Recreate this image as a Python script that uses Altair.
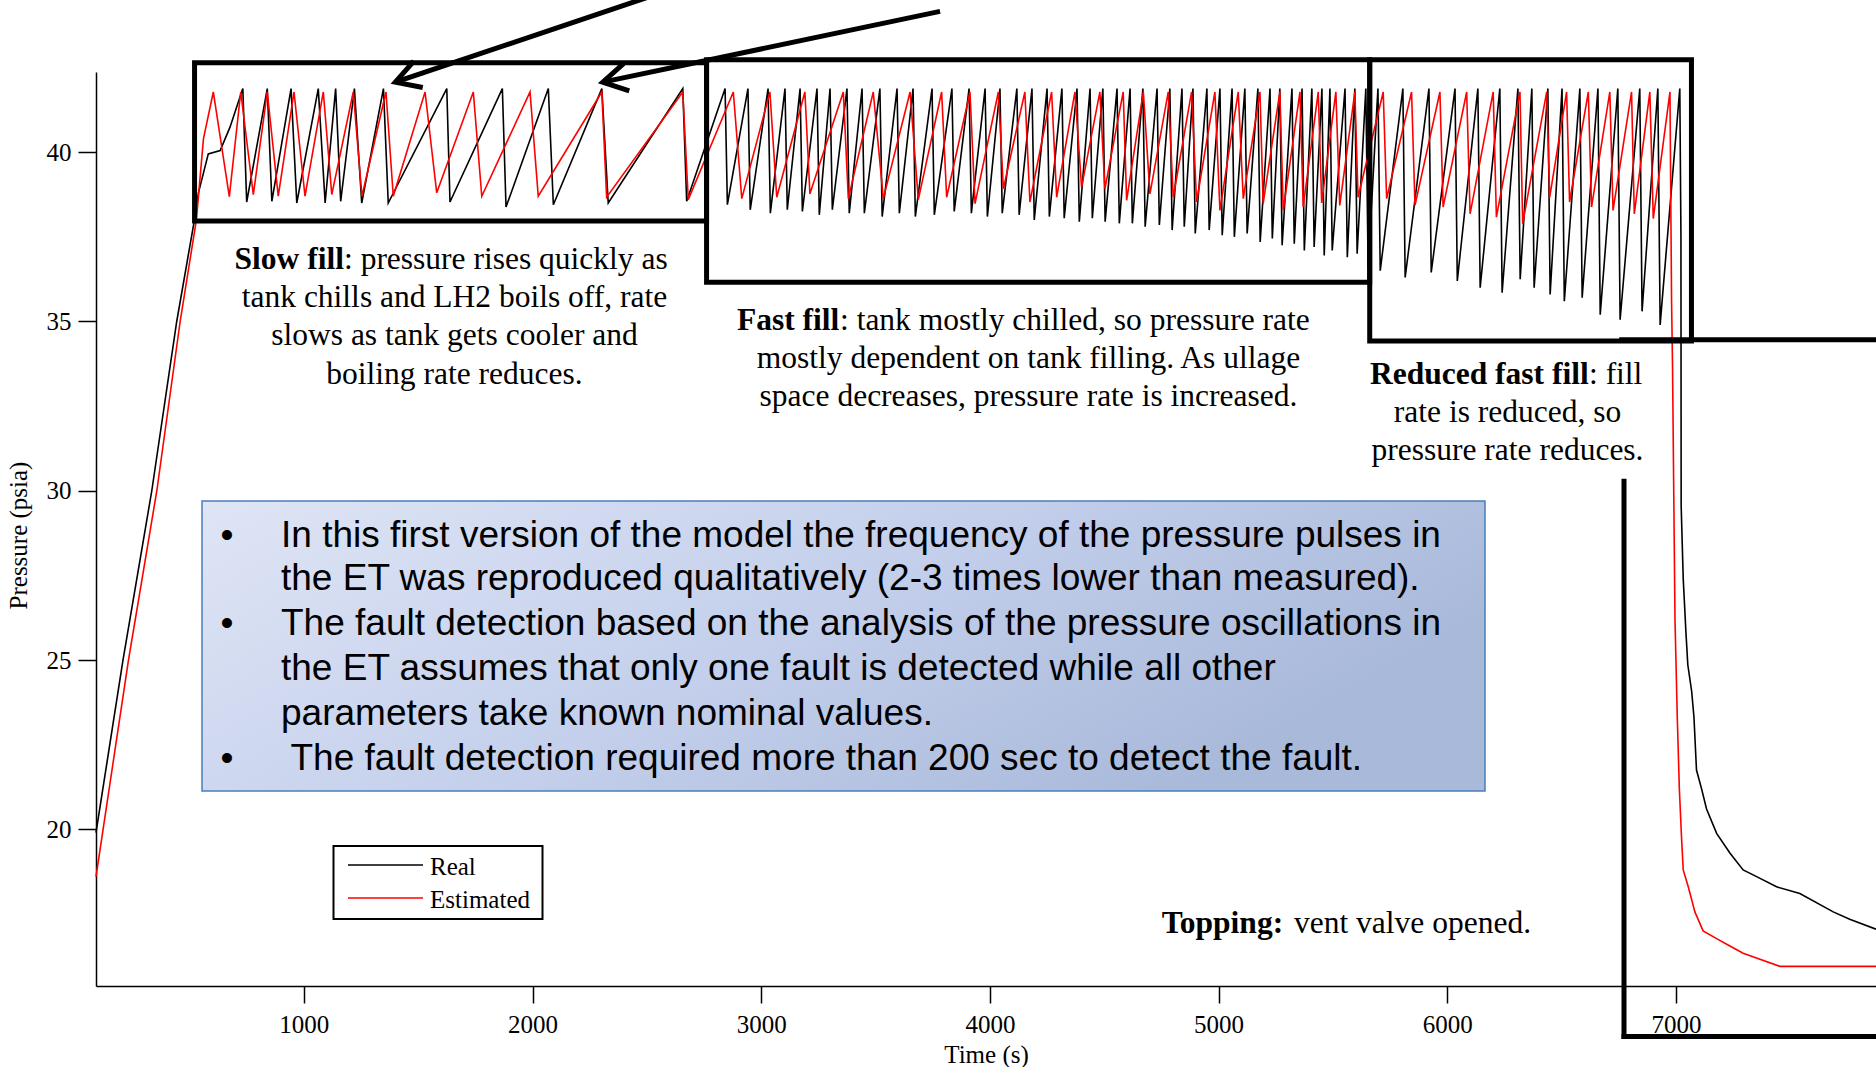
import altair as alt
import pandas as pd

# ---------------------------------------------------------------
# ET pressure during loading: measured ("Real") vs model ("Estimated")
# Times in s, pressures in psia.
# ---------------------------------------------------------------

# --- Real (measured) pressure ---
real_ramp_s = [91, 209, 335, 444, 524, 539, 582, 634, 677]
real_ramp_psia = [19.9, 25.0, 30.0, 35.0, 38.1, 38.8, 39.95, 40.05, 40.74]
real_peak_psia = 41.88

# slow fill: pulse peaks and the trough reached after each vent drop
real_slow_peak_s = [733, 840, 944, 1063, 1139, 1221, 1348, 1625, 1868, 2069, 2303, 2657]
real_slow_trough_s = [750, 860, 969, 1093, 1161, 1253, 1369, 1639, 1884, 2091, 2331, 2674]
real_slow_trough_psia = [38.53, 38.55, 38.5, 38.5, 38.55, 38.5, 38.5, 38.53, 38.38, 38.45, 38.5, 38.55]

# fast fill
real_fast_peak_s = [2842, 2942, 3030, 3104, 3170, 3244, 3301, 3375, 3441, 3519,
                    3594, 3664, 3747, 3834, 3909, 3979, 4044, 4118, 4184, 4250,
                    4315, 4381, 4438, 4494, 4556, 4613, 4669, 4731, 4787, 4840,
                    4888, 4949, 5006, 5059, 5115, 5172, 5225, 5268, 5321, 5365,
                    5408, 5452, 5487, 5553, 5596, 5644]
real_fast_trough_psia = [38.45, 38.3, 38.2, 38.3, 38.25, 38.15, 38.3, 38.2, 38.2, 38.1,
                         38.2, 38.1, 38.15, 38.25, 38.2, 38.1, 38.2, 38.15, 38.0, 38.1,
                         38.05, 37.95, 38.05, 37.95, 37.9, 37.9, 37.8, 37.85, 37.7, 37.8,
                         37.6, 37.7, 37.55, 37.5, 37.6, 37.35, 37.45, 37.25, 37.3, 37.1,
                         37.2, 36.95, 37.1, 36.9, 37.0, 36.6]

# reduced fast fill
real_reduced_peak_s = [5697, 5806, 5920, 6034, 6134, 6230, 6309, 6370, 6440, 6502,
                       6580, 6659, 6746, 6842, 6921]
real_reduced_trough_psia = [36.5, 36.3, 36.45, 36.2, 36.0, 35.85, 36.25, 36.0, 35.8, 35.6,
                            35.7, 35.2, 35.05, 35.3, 34.9]
real_drop_s = 10

# topping: vent valve opened
real_vent_s = [7017, 7022, 7023, 7032, 7044, 7052, 7069, 7079, 7090, 7112, 7134,
               7178, 7236, 7294, 7353, 7440, 7542, 7688, 7760, 7875]
real_vent_psia = [41.88, 37.5, 29.55, 27.4, 25.8, 24.86, 24.07, 23.3, 21.75, 21.2, 20.6,
                  19.88, 19.3, 18.8, 18.6, 18.3, 18.1, 17.56, 17.34, 17.05]

# --- Estimated (model) pressure ---
est_ramp_s = [91, 233, 357, 459, 530, 561]
est_ramp_psia = [18.6, 25.0, 30.0, 35.0, 38.0, 40.4]
est_peak_psia = 41.78

est_peak_s = [604, 724, 840, 957, 1085, 1216, 1359, 1530, 1741, 1989, 2303, 2657,
              2878, 3038, 3191, 3359, 3490, 3651,
              3789, 3913, 4037, 4153, 4270, 4372, 4481, 4583, 4671, 4780, 4882, 4984,
              5086, 5181, 5268, 5356, 5436, 5513, 5596,
              5720, 5844, 5968, 6085, 6201, 6318, 6435, 6522, 6617, 6711, 6806, 6886]
est_trough_s = [674, 779, 888, 1005, 1122, 1254, 1391, 1581, 1778, 2025, 2324, 2681,
                2915, 3068, 3213, 3381, 3534, 3687,
                3811, 3935, 4059, 4175, 4292, 4401, 4503, 4598, 4700, 4802, 4904, 5006,
                5108, 5195, 5283, 5370, 5451, 5530, 5610,
                5735, 5859, 5982, 6100, 6215, 6330, 6448, 6535, 6631, 6725, 6818, 6901]
est_trough_psia = [38.69, 38.75, 38.7, 38.7, 38.75, 38.7, 38.7, 38.8, 38.7, 38.7, 38.67, 38.6,
                   38.63, 38.67, 38.77, 38.63, 38.63, 38.6,
                   38.67, 38.48, 38.92, 38.53, 38.67, 38.97, 38.92, 38.58, 38.77, 38.67, 38.53, 38.28,
                   38.63, 38.48, 38.28, 38.38, 38.5, 38.43, 38.67,
                   38.63, 38.43, 38.38, 38.18, 38.08, 37.89, 38.67, 38.53, 38.38, 38.28, 38.18, 38.04]

est_vent_s = [6974, 6981, 6985, 6996, 7006, 7015, 7025, 7032, 7054, 7083, 7119,
              7178, 7236, 7294, 7455, 7875]
est_vent_psia = [41.78, 35.6, 33.8, 26.2, 23.3, 21.2, 19.7, 18.8, 18.3, 17.56, 17.0,
                 16.77, 16.55, 16.34, 15.95, 15.95]

# --- axis ticks ---
time_ticks = [1000, 2000, 3000, 4000, 5000, 6000, 7000]
psia_ticks = [20, 25, 30, 35, 40]

# --- phase boxes (time span, pressure span) ---
phase_start_s = [522, 2761, 5661]
phase_end_s = [2761, 5661, 7068]
phase_top_psia = [42.64, 42.73, 42.73]
phase_bottom_psia = [37.97, 36.16, 34.42]

# topping bracket segments: (t0, p0, t1, p1)
topping_segments = [(6763, 34.46, 7950, 34.46),
                    (6773, 30.28, 6773, 13.88),
                    (6773, 13.88, 7950, 13.88)]

# arrows: shaft start, tip, barb ends
arrows = [
    dict(start=(2514, 44.60), tip=(1400, 42.07), barb1=(1481, 42.69), barb2=(1520, 41.91)),
    dict(start=(3782, 44.16), tip=(2307, 42.07), barb1=(2398, 42.62), barb2=(2423, 41.81)),
]

# ---------------------------------------------------------------
PAD_L, PAD_T, PAD_R, PAD_B = 96, 72, 0, 81
W, H = 1780, 914
T_DOMAIN = [91, 7875]
P_DOMAIN = [15.37, 42.37]
SERIF = "Liberation Serif"
SANS = "Liberation Sans"

x_scale = alt.Scale(domain=T_DOMAIN, nice=False, zero=False)
y_scale = alt.Scale(domain=P_DOMAIN, nice=False, zero=False)

common_axis = dict(domainColor="black", domainWidth=1.5, tickColor="black", tickWidth=1.5,
                   labelColor="black", labelFont=SERIF, labelFontSize=25,
                   titleFont=SERIF, titleFontSize=25, titleFontWeight="normal",
                   titleColor="black", grid=False, labelFlush=False, labelOverlap=False)
x_axis = alt.Axis(values=time_ticks, format="d", title="Time (s)", tickSize=17,
                  labelPadding=9, titleY=68, titleBaseline="middle", **common_axis)
y_axis = alt.Axis(values=psia_ticks, format="d", title="Pressure (psia)", tickSize=18,
                  labelPadding=7, titleX=-78, titleY=463, titleAngle=270,
                  titleBaseline="middle", titleAlign="center", **common_axis)


def X(field):
    return alt.X(field, type="quantitative", scale=x_scale, axis=x_axis)


def Y(field):
    return alt.Y(field, type="quantitative", scale=y_scale, axis=y_axis)


# --- build the two pressure traces ---
real_pts = list(zip(real_ramp_s, real_ramp_psia))
for pk, ts, tp in zip(real_slow_peak_s, real_slow_trough_s, real_slow_trough_psia):
    real_pts += [(pk, real_peak_psia), (ts, tp)]
for pk, tp in zip(real_fast_peak_s + real_reduced_peak_s,
                  real_fast_trough_psia + real_reduced_trough_psia):
    real_pts += [(pk, real_peak_psia), (pk + real_drop_s, tp)]
real_pts += list(zip(real_vent_s, real_vent_psia))

est_pts = list(zip(est_ramp_s, est_ramp_psia))
for pk, ts, tp in zip(est_peak_s, est_trough_s, est_trough_psia):
    est_pts += [(pk, est_peak_psia), (ts, tp)]
est_pts += list(zip(est_vent_s, est_vent_psia))

real_df = pd.DataFrame(real_pts, columns=["t", "p"])
real_df["i"] = range(len(real_df))
est_df = pd.DataFrame(est_pts, columns=["t", "p"])
est_df["i"] = range(len(est_df))

real_line = alt.Chart(real_df).mark_line(color="black", strokeWidth=1.6).encode(
    x=X("t"), y=Y("p"), order="i:Q")
est_line = alt.Chart(est_df).mark_line(color="#ff0000", strokeWidth=1.6).encode(
    x=X("t"), y=Y("p"), order="i:Q")

# --- phase boxes and brackets ---
box_df = pd.DataFrame({"t0": phase_start_s, "t1": phase_end_s,
                       "p0": phase_bottom_psia, "p1": phase_top_psia})
boxes = alt.Chart(box_df).mark_rect(fill=None, fillOpacity=0, stroke="black",
                                    strokeWidth=5).encode(
    x=X("t0"), x2="t1", y=Y("p0"), y2="p1")

seg_df = pd.DataFrame(topping_segments, columns=["t0", "p0", "t1", "p1"])
bracket = alt.Chart(seg_df).mark_rule(color="black", strokeWidth=5, strokeCap="square").encode(
    x=X("t0"), x2="t1", y=Y("p0"), y2="p1")

shaft_df = pd.DataFrame([(a["start"][0], a["start"][1], a["tip"][0], a["tip"][1]) for a in arrows],
                        columns=["t0", "p0", "t1", "p1"])
shafts = alt.Chart(shaft_df).mark_rule(color="black", strokeWidth=5).encode(
    x=X("t0"), x2="t1", y=Y("p0"), y2="p1")

head_rows = []
for k, a in enumerate(arrows):
    for j, key in enumerate(["barb1", "tip", "barb2"]):
        head_rows.append(dict(arrow=k, j=j, t=a[key][0], p=a[key][1]))
heads = alt.Chart(pd.DataFrame(head_rows)).mark_line(
    color="black", strokeWidth=5, strokeJoin="miter").encode(
    x=X("t"), y=Y("p"), detail="arrow:N", order="j:Q")


# --- page-positioned annotations (pixels on the page) ---
def text_layer(rows, **mark_kw):
    df = pd.DataFrame(rows, columns=["label", "px", "py"])
    df["px"] = df["px"] - PAD_L
    df["py"] = df["py"] - PAD_T
    return alt.Chart(df).mark_text(**mark_kw).encode(
        x=alt.X("px:Q", scale=None, axis=None),
        y=alt.Y("py:Q", scale=None, axis=None),
        text="label:N")


serif_center = text_layer([
    ("tank chills and LH2 boils off, rate", 454.5, 297.9),
    ("slows as tank gets cooler and", 454.5, 336.2),
    ("boiling rate reduces.", 454.5, 374.5),
    ("mostly dependent on tank filling. As ullage", 1028.5, 358.9),
    ("space decreases, pressure rate is increased.", 1028.5, 397.2),
    ("rate is reduced, so", 1507.5, 412.8),
    ("pressure rate reduces.", 1507.5, 451.0),
], font=SERIF, fontSize=31.5, align="center", baseline="middle", color="black")

serif_bold = text_layer([
    ("Slow fill", 234.5, 259.6),
    ("Fast fill", 737, 320.6),
    ("Reduced fast fill", 1370, 374.5),
    ("Topping:", 1161.7, 923.6),
], font=SERIF, fontSize=31.5, fontWeight="bold", align="left", baseline="middle", color="black")

serif_rest = text_layer([
    (": pressure rises quickly as", 344.0, 259.6),
    (": tank mostly chilled, so pressure rate", 840.0, 320.6),
    (": fill", 1589.0, 374.5),
    ("vent valve opened.", 1294.0, 923.6),
], font=SERIF, fontSize=31.5, align="left", baseline="middle", color="black")

# findings panel
panel_df = pd.DataFrame({"k": [0]})
panel = alt.Chart(panel_df).mark_rect(
    fill=alt.LinearGradient(gradient="linear",
                            stops=[alt.GradientStop(color="#dfe5f5", offset=0),
                                   alt.GradientStop(color="#c3cfeb", offset=0.55),
                                   alt.GradientStop(color="#a9b9da", offset=1)],
                            x1=0, x2=1, y1=0, y2=0.4),
    stroke="#4a7ebb", strokeWidth=1.5).encode(
    x=alt.value(202 - PAD_L), x2=alt.value(1485 - PAD_L),
    y=alt.value(501 - PAD_T), y2=alt.value(791 - PAD_T))

bullet_lines = text_layer([
    ("In this first version of the model the frequency of the pressure pulses in", 281, 546.7),
    ("the ET was reproduced qualitatively (2-3 times lower than measured).", 281, 590),
    ("The fault detection based on the analysis of the pressure oscillations in", 281, 635),
    ("the ET assumes that only one fault is detected while all other", 281, 680),
    ("parameters take known nominal values.", 281, 725),
    ("The fault detection required more than 200 sec to detect the fault.", 290.5, 770),
], font=SANS, fontSize=37, align="left", baseline="alphabetic", color="black")

bullets = text_layer([
    ("•", 227, 546.7), ("•", 227, 635), ("•", 227, 770),
], font=SANS, fontSize=37, align="center", baseline="alphabetic", color="black")

# legend
legend_box = alt.Chart(panel_df).mark_rect(fill="white", stroke="black", strokeWidth=2).encode(
    x=alt.value(333.5 - PAD_L), x2=alt.value(542.5 - PAD_L),
    y=alt.value(846 - PAD_T), y2=alt.value(919 - PAD_T))
legend_real = alt.Chart(panel_df).mark_rule(color="black", strokeWidth=1.6).encode(
    x=alt.value(348 - PAD_L), x2=alt.value(423 - PAD_L), y=alt.value(865 - PAD_T))
legend_est = alt.Chart(panel_df).mark_rule(color="#ff0000", strokeWidth=1.6).encode(
    x=alt.value(348 - PAD_L), x2=alt.value(423 - PAD_L), y=alt.value(898 - PAD_T))
legend_text = text_layer([
    ("Real", 430, 867), ("Estimated", 430, 900),
], font=SERIF, fontSize=25, align="left", baseline="middle", color="black")

chart = alt.layer(
    panel, real_line, est_line, boxes, bracket, shafts, heads,
    serif_center, serif_bold, serif_rest, bullet_lines, bullets,
    legend_box, legend_real, legend_est, legend_text,
).properties(
    width=W, height=H,
    autosize=alt.AutoSizeParams(type="none"),
    padding={"left": PAD_L, "top": PAD_T, "right": PAD_R, "bottom": PAD_B},
    background="white",
).configure_view(stroke=None)

chart.save("out.html", embed_options={"renderer": "svg", "actions": False})
